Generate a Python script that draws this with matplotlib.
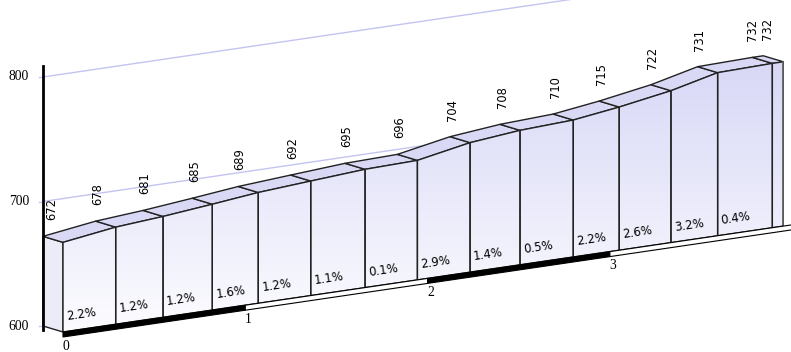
import math
import numpy as np
import matplotlib
matplotlib.use('Agg')
import matplotlib.pyplot as plt
from matplotlib.patches import Polygon

# elevation profile data
dist_km = [0, 0.289, 0.549, 0.819, 1.071, 1.359, 1.657, 1.944, 2.233, 2.507,
           2.799, 3.051, 3.335, 3.591, 3.891, 3.951]
elev_m = [672, 678, 681, 685, 689, 692, 695, 696, 704, 708, 710, 715, 722, 731, 732, 732]
grade_labels = ['2.2%', '1.2%', '1.2%', '1.6%', '1.2%', '1.1%', '0.1%', '2.9%',
                '1.4%', '0.5%', '2.2%', '2.6%', '3.2%', '0.4%', '']
y_ticks = [600, 700, 800]
x_ticks = [0, 1, 2, 3]
y_min, y_max = 600, 809
x_max = 4

# oblique projection (pixels)
X0, Y0 = 63, 332          # front, km 0, 600 m
PX_KM, PY_KM = 182.3, -26.8
PY_M = -1.245
DX, DY = -20, -6          # depth offset to the back wall


def proj(u, v, back=False):
    x = X0 + u * PX_KM + (DX if back else 0)
    y = Y0 + u * PY_KM + (v - y_min) * PY_M + (DY if back else 0)
    return x, y


fig = plt.figure(figsize=(7.91, 3.52), dpi=100)
ax = fig.add_axes([0, 0, 1, 1])
ax.set_xlim(0, 791)
ax.set_ylim(352, 0)
ax.axis('off')

edge = '#222222'
grid_c = '#c4c4f0'

# gridlines on the back wall
for t in y_ticks:
    p0 = proj(0, t, True)
    p1 = proj(dist_km[-1], t, True)
    ax.plot([p0[0], p1[0]], [p0[1], p1[1]], color=grid_c, lw=1, zorder=1)
    ax.plot([p0[0] - 4, p0[0]], [p0[1], p0[1]], color=grid_c, lw=1, zorder=1)
    ax.text(p0[0] - 14, p0[1], str(t), ha='right', va='center',
            family='Liberation Serif', fontsize=9.8, color='black')

# y axis
a0 = proj(0, y_min - 3, True)
a1 = proj(0, y_max, True)
ax.plot([a0[0], a1[0]], [a0[1], a1[1]], color='black', lw=2, zorder=6)

# vertical gradient for the front faces
grad_top = np.array([0.84, 0.84, 0.965])
grad_bot = np.array([0.99, 0.99, 1.0])
t = np.linspace(0, 1, 256)[:, None]
grad = (grad_top * (1 - t) + grad_bot * t)[:, None, :].repeat(2, axis=1)

n = len(dist_km)
# left side face of the first block
lf = [proj(dist_km[0], y_min), proj(dist_km[0], elev_m[0]),
      proj(dist_km[0], elev_m[0], True), proj(dist_km[0], y_min, True)]
ax.add_patch(Polygon(lf, closed=True, facecolor='#ececf9', edgecolor=edge, lw=1, zorder=3))

for i in range(n - 1):
    u0, u1 = dist_km[i], dist_km[i + 1]
    e0, e1 = elev_m[i], elev_m[i + 1]
    top = [proj(u0, e0), proj(u1, e1), proj(u1, e1, True), proj(u0, e0, True)]
    ax.add_patch(Polygon(top, closed=True, facecolor='#d9d9f6', edgecolor=edge,
                         lw=1, zorder=3, joinstyle='round'))
    front = [proj(u0, y_min), proj(u1, y_min), proj(u1, e1), proj(u0, e0)]
    fp = Polygon(front, closed=True, facecolor='none', edgecolor=edge, lw=1, zorder=4)
    ax.add_patch(fp)
    im = ax.imshow(grad, extent=(0, 791, 335, 50), origin='upper', aspect='auto',
                   zorder=3, interpolation='bilinear')
    im.set_clip_path(fp)

# right edge of the last block
r0 = proj(dist_km[-1], y_min)
r1 = proj(dist_km[-1], elev_m[-1])
ax.plot([r0[0], r1[0]], [r0[1], r1[1]], color='#666666', lw=1.2, zorder=5)

# elevation labels at the back corners, nudged apart when too close
lab_x = []
lab_y = []
for i in range(n):
    bx, by = proj(dist_km[i], elev_m[i], True)
    lab_x.append(max(bx + 2, a0[0] + 9))
    lab_y.append(by - 16)
min_gap = 15
for i in range(1, n):
    gap = lab_x[i] - lab_x[i - 1]
    if gap < min_gap:
        lab_x[i - 1] -= (min_gap - gap) / 2
        lab_x[i] += (min_gap - gap) / 2
for i in range(n):
    ax.text(lab_x[i], lab_y[i], str(elev_m[i]), rotation=90, ha='center', va='bottom',
            family='DejaVu Sans', fontsize=8.3, color='black', zorder=7)

# grade labels on the front faces
ang = math.degrees(math.atan(-PY_KM / PX_KM))
for i in range(n - 1):
    if not grade_labels[i]:
        continue
    fx, fy = proj(dist_km[i], y_min)
    ax.text(fx + 4, fy - 12, grade_labels[i], rotation=ang, rotation_mode='anchor',
            ha='left', va='baseline', family='DejaVu Sans', fontsize=8.5,
            color='black', zorder=7)

# km scale strip along the front bottom
for k in range(x_max):
    s = [proj(k, y_min), proj(k + 1, y_min)]
    strip = [s[0], s[1], (s[1][0], s[1][1] + 5), (s[0][0], s[0][1] + 5)]
    if k % 2 == 0:
        ax.add_patch(Polygon(strip, closed=True, facecolor='black', edgecolor='black',
                             lw=0.8, zorder=5))
    else:
        ax.add_patch(Polygon(strip, closed=True, facecolor='white', edgecolor='black',
                             lw=0.8, zorder=5))

for k in x_ticks:
    px, py = proj(k, y_min)
    ax.text(px + 3, py + 7.5, str(k), ha='center', va='top',
            family='Liberation Serif', fontsize=9.8, color='black', zorder=7)

fig.savefig('out.png', dpi=100)
